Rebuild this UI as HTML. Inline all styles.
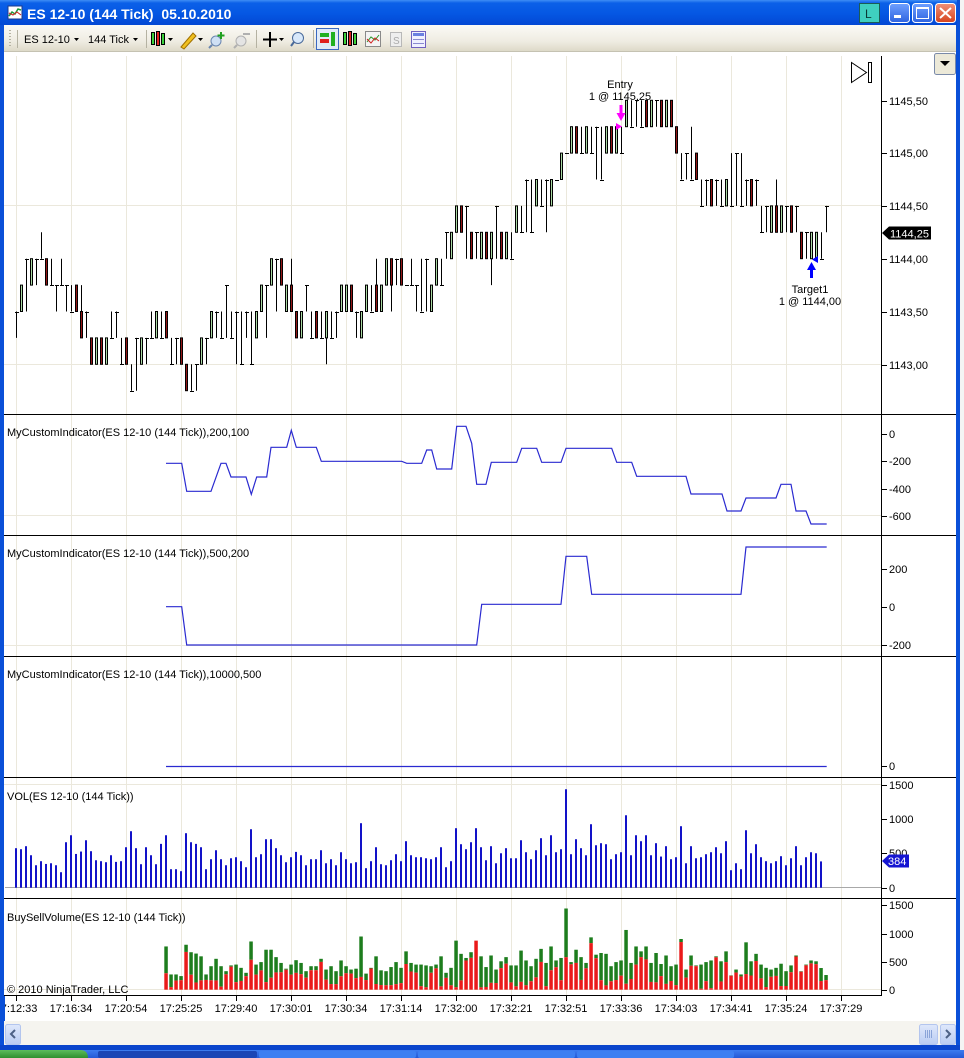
<!DOCTYPE html>
<html><head><meta charset="utf-8">
<style>
html,body{margin:0;padding:0;background:#fff;overflow:hidden;}
svg{display:block;}
text{font-family:"Liberation Sans",Arial,sans-serif;font-size:11px;fill:#000;}
</style></head><body>
<svg id="s" width="964" height="1058" viewBox="0 0 964 1058" xmlns="http://www.w3.org/2000/svg">
<defs>
 <linearGradient id="tb" x1="0" y1="0" x2="0" y2="1">
  <stop offset="0" stop-color="#3f8ef5"/>
  <stop offset="0.12" stop-color="#0b60e8"/>
  <stop offset="0.55" stop-color="#0557e3"/>
  <stop offset="1" stop-color="#0348d4"/>
 </linearGradient>
 <linearGradient id="tool" x1="0" y1="0" x2="0" y2="1">
  <stop offset="0" stop-color="#fbfaf6"/>
  <stop offset="0.6" stop-color="#efece2"/>
  <stop offset="1" stop-color="#dcd8c6"/>
 </linearGradient>
 <linearGradient id="btn" x1="0" y1="0" x2="0" y2="1">
  <stop offset="0" stop-color="#6fa0ff"/>
  <stop offset="1" stop-color="#2e63e0"/>
 </linearGradient>
 <linearGradient id="cls" x1="0" y1="0" x2="0" y2="1">
  <stop offset="0" stop-color="#f0917a"/>
  <stop offset="1" stop-color="#d6431c"/>
 </linearGradient>
 <linearGradient id="task" x1="0" y1="0" x2="0" y2="1">
  <stop offset="0" stop-color="#3c7cf0"/>
  <stop offset="1" stop-color="#2459d6"/>
 </linearGradient>
 <linearGradient id="start" x1="0" y1="0" x2="0" y2="1">
  <stop offset="0" stop-color="#5dbd5d"/>
  <stop offset="1" stop-color="#2f8f2f"/>
 </linearGradient>
 <linearGradient id="sb" x1="0" y1="0" x2="0" y2="1">
  <stop offset="0" stop-color="#dfe8fb"/>
  <stop offset="1" stop-color="#b9ccf3"/>
 </linearGradient>
</defs>

<rect x="0" y="0" width="964" height="1058" fill="#fff"/>

<!-- right strip (other window) -->
<rect x="960" y="0" width="4" height="1050" fill="#f4f4f4"/>

<!-- window frame -->
<rect x="0" y="0" width="960" height="1050" fill="#0a50d8"/>
<rect x="4" y="25" width="952" height="1020" fill="#fff"/>

<!-- title bar -->
<rect x="0" y="0" width="957" height="25" fill="url(#tb)"/>
<rect x="8" y="6" width="14" height="13" fill="#fff" stroke="#1a3a8a" stroke-width="1"/>
<polyline points="9,16 12,12 15,14 18,9 21,10" fill="none" stroke="#1a9a3a" stroke-width="1.5"/>
<polyline points="9,13 13,15 17,12 21,15" fill="none" stroke="#d02020" stroke-width="1"/>
<text x="27" y="19" style="font-size:14px;font-weight:bold;fill:#fff;white-space:pre">ES 12-10 (144 Tick)  05.10.2010</text>
<rect x="859.5" y="3.5" width="20" height="19" fill="#3fcfbf" stroke="#1a5c56"/>
<text x="865" y="18" style="font-size:12px;fill:#0a3a36">L</text>
<rect x="889.5" y="3.5" width="20" height="19" rx="3" fill="url(#btn)" stroke="#fff"/>
<rect x="894" y="15" width="7" height="3" fill="#fff"/>
<rect x="912.5" y="3.5" width="20" height="19" rx="3" fill="url(#btn)" stroke="#fff"/>
<rect x="916.5" y="7.5" width="12" height="11" fill="none" stroke="#fff" stroke-width="1"/>
<rect x="916" y="7" width="13" height="2" fill="#fff"/>
<rect x="935.5" y="3.5" width="20" height="19" rx="3" fill="url(#cls)" stroke="#fff"/>
<path d="M940,8 L951,18 M951,8 L940,18" stroke="#fff" stroke-width="2"/>

<!-- toolbar -->
<rect x="4" y="25" width="952" height="27" fill="url(#tool)"/>
<line x1="4" y1="51.5" x2="956" y2="51.5" stroke="#c5c2b2"/>
<path d="M10,30 v18" stroke="#b5b2a2" stroke-width="2" stroke-dasharray="1,2"/>
<line x1="17.5" y1="30" x2="17.5" y2="48" stroke="#b5b2a2"/>
<text x="24" y="43">ES 12-10</text>
<path d="M74,38 h5 l-2.5,3 z" fill="#000"/>
<text x="88" y="43">144 Tick</text>
<path d="M133,38 h5 l-2.5,3 z" fill="#000"/>
<line x1="146.5" y1="30" x2="146.5" y2="48" stroke="#b5b2a2"/>
<g stroke="#000" stroke-width="1">
 <rect x="151.5" y="32.5" width="3" height="12" fill="#3ad03a"/>
 <rect x="156.5" y="31.5" width="3" height="14" fill="#e02020"/>
 <rect x="161.5" y="33.5" width="3" height="11" fill="#3ad03a"/>
</g>
<path d="M168,38 h5 l-2.5,3 z" fill="#000"/>
<path d="M181,47 L193,33 L196,36 L184,49 Z" fill="#f0c020" stroke="#a07000"/>
<path d="M198,38 h5 l-2.5,3 z" fill="#000"/>
<circle cx="216" cy="41" r="5" fill="#cfe0f5" stroke="#6a86b0"/>
<line x1="212" y1="45" x2="209" y2="48" stroke="#6a86b0" stroke-width="2"/>
<path d="M221,32 v7 M217.5,35.5 h7" stroke="#20a020" stroke-width="2"/>
<circle cx="241" cy="41" r="5" fill="#e4e4e4" stroke="#b0b0b0"/>
<line x1="237" y1="45" x2="234" y2="48" stroke="#b0b0b0" stroke-width="2"/>
<line x1="243" y1="34" x2="250" y2="34" stroke="#b0b0b0" stroke-width="2"/>
<line x1="256.5" y1="30" x2="256.5" y2="48" stroke="#b5b2a2"/>
<path d="M263,39.5 h14 M270,32 v15" stroke="#000" stroke-width="2"/>
<path d="M279,38 h5 l-2.5,3 z" fill="#000"/>
<circle cx="298" cy="38" r="5.5" fill="#d8e8fa" stroke="#4a6a9a"/>
<line x1="294" y1="42" x2="291" y2="46" stroke="#4a6a9a" stroke-width="2"/>
<line x1="313.5" y1="30" x2="313.5" y2="48" stroke="#b5b2a2"/>
<rect x="316.5" y="28.5" width="22" height="21" fill="#e1ebf8" stroke="#3a68c0"/>
<rect x="320" y="33" width="9" height="4" fill="#20b020"/>
<rect x="320" y="39" width="9" height="4" fill="#e02020"/>
<rect x="331" y="32" width="4" height="14" fill="#20b020"/>
<g stroke="#000" stroke-width="1">
 <rect x="343.5" y="32.5" width="3" height="12" fill="#3ad03a"/>
 <rect x="348.5" y="31.5" width="3" height="14" fill="#e02020"/>
 <rect x="353.5" y="33.5" width="3" height="11" fill="#3ad03a"/>
</g>
<rect x="365.5" y="31.5" width="15" height="15" fill="#f4f4f4" stroke="#8a8a8a"/>
<polyline points="367,42 371,37 375,40 379,35" fill="none" stroke="#2a9a2a"/>
<polyline points="367,39 371,43 375,38 379,41" fill="none" stroke="#d02020"/>
<rect x="390.5" y="32.5" width="11" height="14" fill="#eee" stroke="#b8b8b8"/>
<text x="393" y="44" style="font-size:10px;fill:#aaa">S</text>
<rect x="411.5" y="31.5" width="14" height="16" fill="#f0f0ff" stroke="#7060c0"/>
<rect x="413" y="33" width="11" height="3" fill="#6a80e0"/>
<line x1="413" y1="39.5" x2="424" y2="39.5" stroke="#8a8ad0"/>
<line x1="413" y1="43.5" x2="424" y2="43.5" stroke="#8a8ad0"/>

<!-- chart area -->
<rect x="4" y="52" width="952" height="969" fill="#fff"/>
<g id="grid"></g>
<g id="plots"></g>

<!-- separators, axes -->
<g stroke="#000" stroke-width="1">
 <line x1="4" y1="414.5" x2="956" y2="414.5"/>
 <line x1="4" y1="535.5" x2="956" y2="535.5"/>
 <line x1="4" y1="656.5" x2="956" y2="656.5"/>
 <line x1="4" y1="777.5" x2="956" y2="777.5"/>
 <line x1="4" y1="898.5" x2="956" y2="898.5"/>
 <line x1="4" y1="995.5" x2="882" y2="995.5"/>
 <line x1="881.5" y1="56" x2="881.5" y2="996"/>
</g>
<g id="ticks" stroke="#000" stroke-width="1"></g>

<!-- price axis labels -->
<text x="889" y="105">1145,50</text>
<text x="889" y="157">1145,00</text>
<text x="889" y="210">1144,50</text>
<text x="889" y="263">1144,00</text>
<text x="889" y="316">1143,50</text>
<text x="889" y="369">1143,00</text>
<polygon points="882,233 889,226.5 931,226.5 931,239.5 889,239.5" fill="#000"/>
<text x="890" y="237.5" style="fill:#fff">1144,25</text>

<!-- panel 2 labels -->
<text x="889" y="438">0</text>
<text x="889" y="465">-200</text>
<text x="889" y="493">-400</text>
<text x="889" y="520">-600</text>
<!-- panel 3 labels -->
<text x="889" y="573">200</text>
<text x="889" y="611">0</text>
<text x="889" y="649">-200</text>
<!-- panel 4 -->
<text x="889" y="770">0</text>
<!-- VOL -->
<text x="889" y="789">1500</text>
<text x="889" y="823">1000</text>
<text x="889" y="857">500</text>
<text x="889" y="892">0</text>
<polygon points="882,861 889,854.5 909,854.5 909,867.5 889,867.5" fill="#1515d2"/>
<text x="888" y="865" style="fill:#fff">384</text>
<!-- BuySell -->
<text x="889" y="909">1500</text>
<text x="889" y="938">1000</text>
<text x="889" y="966">500</text>
<text x="889" y="994">0</text>

<!-- panel titles -->
<text x="7" y="436">MyCustomIndicator(ES 12-10 (144 Tick)),200,100</text>
<text x="7" y="557">MyCustomIndicator(ES 12-10 (144 Tick)),500,200</text>
<text x="7" y="678">MyCustomIndicator(ES 12-10 (144 Tick)),10000,500</text>
<text x="7" y="800">VOL(ES 12-10 (144 Tick))</text>
<text x="7" y="921">BuySellVolume(ES 12-10 (144 Tick))</text>
<text x="7" y="993">© 2010 NinjaTrader, LLC</text>

<!-- x axis labels -->
<g text-anchor="middle">
<text x="16" y="1012">17:12:33</text>
<text x="71" y="1012">17:16:34</text>
<text x="126" y="1012">17:20:54</text>
<text x="181" y="1012">17:25:25</text>
<text x="236" y="1012">17:29:40</text>
<text x="291" y="1012">17:30:01</text>
<text x="346" y="1012">17:30:34</text>
<text x="401" y="1012">17:31:14</text>
<text x="456" y="1012">17:32:00</text>
<text x="511" y="1012">17:32:21</text>
<text x="566" y="1012">17:32:51</text>
<text x="621" y="1012">17:33:36</text>
<text x="676" y="1012">17:34:03</text>
<text x="731" y="1012">17:34:41</text>
<text x="786" y="1012">17:35:24</text>
<text x="841" y="1012">17:37:29</text>
</g>
<rect x="0" y="996" width="5" height="25" fill="#0a50d8"/>

<!-- annotations -->
<text x="620" y="88" text-anchor="middle">Entry</text>
<text x="620" y="100" text-anchor="middle">1 @ 1145,25</text>
<path d="M619.5,105 h3 v8 h3 l-4.5,8 l-4.5,-8 h3 z" fill="#ff00ff"/>
<path d="M616,123 l6,3.5 l-6,3.5 z" fill="#ff00ff"/>
<path d="M810,278 h3 v-8 h3 l-4.5,-8 l-4.5,8 h3 z" fill="#0000ff"/>
<path d="M818,256 l-6,3.5 l6,3.5 z" fill="#0000ff"/>
<text x="810" y="293" text-anchor="middle">Target1</text>
<text x="810" y="305" text-anchor="middle">1 @ 1144,00</text>

<!-- go-to-end icon -->
<path d="M851.5,62.5 L866.5,72.5 L851.5,82.5 Z" fill="none" stroke="#000"/>
<rect x="868.5" y="62.5" width="3" height="20" fill="none" stroke="#000"/>
<!-- dropdown button -->
<rect x="934.5" y="53.5" width="21" height="21" rx="2" fill="#ece9d8" stroke="#7a8aa8"/>
<path d="M940,61 h10 l-5,5 z" fill="#000"/>

<!-- scrollbar -->
<rect x="4" y="1021" width="952" height="24" fill="#f5f4ef"/>
<rect x="5.5" y="1024.5" width="15" height="20" rx="2" fill="url(#sb)" stroke="#b3c5ee"/>
<path d="M15,1030 l-4,4 l4,4" fill="none" stroke="#4d6185" stroke-width="2"/>
<rect x="919.5" y="1024.5" width="18" height="20" rx="2" fill="url(#sb)" stroke="#b3c5ee"/>
<path d="M925.5,1030 v8 M927.5,1030 v8 M929.5,1030 v8 M931.5,1030 v8" stroke="#8aa4d8"/>
<rect x="940.5" y="1024.5" width="15" height="20" rx="2" fill="url(#sb)" stroke="#b3c5ee"/>
<path d="M946,1030 l4,4 l-4,4" fill="none" stroke="#4d6185" stroke-width="2"/>

<!-- bottom frame & taskbar -->
<rect x="0" y="1045" width="960" height="5" fill="#0a45cc"/>
<rect x="0" y="1050" width="964" height="8" fill="url(#task)"/>
<path d="M0,1050 h80 q8,0 8,8 h-88 z" fill="url(#start)"/>
<rect x="98" y="1051" width="159" height="7" rx="2" fill="#1b45b5"/>
<rect x="259" y="1051" width="157" height="7" rx="2" fill="#3d7ff2"/>
<rect x="418" y="1051" width="157" height="7" rx="2" fill="#3d7ff2"/>
<rect x="577" y="1051" width="157" height="7" rx="2" fill="#3d7ff2"/>
</svg>

<script>
(function(){
const NS='http://www.w3.org/2000/svg';
function el(tag,a,p){const e=document.createElementNS(NS,tag);for(const k in a)e.setAttribute(k,a[k]);p.appendChild(e);return e;}
const grid=document.getElementById('grid');
const plots=document.getElementById('plots');
const ticks=document.getElementById('ticks');
const GC='#ebe8dc';
// vertical gridlines + x ticks
for(let k=0;k<16;k++){
  const x=16.5+55*k;
  el('line',{x1:x,x2:x,y1:56,y2:995,stroke:GC},grid);
  el('line',{x1:x,x2:x,y1:995,y2:1001},ticks);
}
// horizontal gridlines
[205.5,364.5,515.5,645.5,784.5,989.5].forEach(y=>el('line',{x1:4,x2:881,y1:y,y2:y,stroke:GC},grid));
// axis ticks
[101,153,206,259,312,365,433.7,461,489,516,569,606.7,645,766,785,819,853,887.7,905,934,961.7,989.7].forEach(y=>{
  const yy=Math.round(y)+0.5; el('line',{x1:881,x2:887,y1:yy,y2:yy},ticks);
});
// VOL baseline
el('line',{x1:5,x2:881,y1:887.5,y2:887.5,stroke:'#a8a8a8'},grid);

// price bars
const B=[
['l',1,2],['g',2],['l',2,4],['g',3],['l',3,4],['l',4,5],['r',3],['l',3,4],['l',2,3],['l',3,4],
['l',2,3],['l',2,3],['r',2],['r',1,1,3],['l',1,2],['r',0],['g',0],['r',0],['g',0],['l',1,2],
['l',1,2],['l',0,1],['r',0],['l',-1,0],['l',-1,1],['g',0],['l',0,1],['l',1,2],['g',1],['l',1,2],
['r',1],['l',0,1],['l',0,1],['r',0],['r',-1],['l',-1,0],['l',-1,0],['g',0],['l',0,1],['g',1],
['l',1,2],['l',1,2],['l',1,3],['l',1,2],['l',0,2],['l',0,2],['l',1,2],['l',0,2],['g',1],['g',2],
['l',1,3],['g',3],['l',2,4],['r',3],['g',2],['r',2,2,4],['r',1],['g',1],['l',2,3],['l',1,2],
['r',1],['l',1,2],['g',1,0,2],['l',1,2],['l',1,2],['g',2],['g',2],['r',2],['l',1,2],['g',1],
['g',2],['l',2,3],['r',2,2,4],['g',2],['g',3],['r',3,2,4],['l',3,4],['r',3],['d',3],['l',3,4],
['l',2,3],['l',2,4],['l',2,4],['g',2],['g',3],['l',3,4],['l',4,5],['g',4],['g',5],['r',5],
['l',4,6],['r',4],['l',4,5],['g',4],['r',4],['g',4,3,5],['l',4,6],['r',4],['g',4],['l',4,5],
['g',5],['l',5,6],['l',5,7],['l',5,7],['g',6],['l',6,7],['l',5,7],['g',6],['d',7],['g',7],
['d',8],['g',8],['r',8],['l',8,9],['g',8],['l',8,9],['l',7,9],['l',7,9],['g',8],['r',8],
['g',8],['l',8,9],['g',9],['l',9,10],['l',9,10],['l',9,10],['r',9],['g',9],['l',9,10],['r',9],
['g',9],['r',9],['r',8],['l',7,8],['l',7,8],['l',7,9],['r',7],['l',6,7],['l',6,7],['r',6],
['l',6,7],['l',6,7],['g',6],['l',6,8],['l',6,8],['l',6,8],['l',6,7],['r',6],['l',6,7],['l',5,6],
['l',5,6],['g',5],['r',5,5,7],['g',5],['l',5,6],['r',5],['l',5,6],['r',4],['l',4,5],['g',4],
['g',4],['l',4,5],['l',5,6]
];
const Y=L=>364.3-26.4*L;
B.forEach((b,i)=>{
  const x=16+5*i, cx=x+0.5, t=b[0];
  if(t==='g'||t==='r'){
    const lo=b[1], wl=(b[2]!==undefined)?b[2]:lo, wh=(b[3]!==undefined)?b[3]:lo+1;
    if(wl<lo||wh>lo+1) el('line',{x1:cx,x2:cx,y1:Y(wh),y2:Y(wl),stroke:'#000'},plots);
    el('rect',{x:x-0.5,y:Y(lo+1),width:2,height:26.4,fill:t==='g'?'#a9d8a2':'#931515',stroke:'#000','stroke-width':1},plots);
  } else if(t==='l'){
    el('line',{x1:cx,x2:cx,y1:Y(b[2]),y2:Y(b[1]),stroke:'#000'},plots);
    const ty=Math.round(Y(i%2?b[1]:b[2]))+0.5;
    el('line',{x1:x-1,x2:x+3,y1:ty,y2:ty,stroke:'#000'},plots);
  } else {
    const ty=Math.round(Y(b[1]))+0.5;
    el('line',{x1:x-1,x2:x+3,y1:ty,y2:ty,stroke:'#000'},plots);
  }
});

// indicator lines
const LC='#2a2ad0';
function pl(pts){el('polyline',{points:pts.map(p=>p.join(',')).join(' '),fill:'none',stroke:LC,'stroke-width':1.2},plots);}
pl([[166,463.3],[181.7,463.3],[186.7,491.3],[211,491.3],[221,463.3],[226,463.3],[231,477],[246,477],[251.3,494.3],[256.7,477],[266.7,477],[271,447.3],[286.7,447.3],[291.3,430.3],[296.3,447.3],[316.3,447.3],[321.3,461.3],[401.7,461.3],[406.7,463.3],[421.7,463.3],[426.7,450],[431.7,450],[436.7,469],[451.7,469],[456.7,426.3],[466,426.3],[471.7,443.3],[476.7,484.3],[486,484.3],[491.3,462.3],[516.7,462.3],[521.7,448.3],[536.7,448.3],[541.7,462.3],[561,462.3],[566,448.3],[611.7,448.3],[616.7,462.3],[631.7,462.3],[636.7,476.3],[686,476.3],[691,494],[722,494],[727,511],[741,511],[746,498],[776,498],[781,484.3],[791,484.3],[796,511],[806,511],[811,524],[826.7,524]]);
pl([[166,606.7],[181.7,606.7],[186.7,645],[476.7,645],[481.7,604.3],[561,604.3],[566,556.3],[586.7,556.3],[591.7,594.3],[741,594.3],[746,547],[826.7,547]]);
pl([[166,766.5],[826.7,766.5]]);

// volume
const V=[577,562,606,474,328,387,347,357,328,226,
664,766,493,528,693,533,401,387,372,474,
377,387,591,825,577,343,591,474,343,640,
766,270,270,241,796,664,640,591,270,416,
547,416,328,430,445,387,299,854,445,489,
708,708,577,474,372,445,523,474,328,416,
416,547,357,416,328,518,416,357,372,942,
285,387,591,343,328,401,489,387,679,474,
445,445,430,416,445,591,299,387,869,635,
562,664,869,591,401,606,357,503,577,430,
430,693,518,416,547,723,474,766,518,562,
1438,489,708,577,474,927,620,650,635,416,
489,518,1058,474,766,679,766,474,650,455,
606,416,445,898,357,606,430,445,489,518,
591,503,679,255,357,270,839,503,635,445,
387,357,387,460,328,430,606,328,445,518,
503,384];
const VS=102.7/1500, V0=887.7;
V.forEach((v,k)=>{const h=v*VS; el('rect',{x:15+5*k,y:V0-h,width:2,height:h,fill:'#1212c8'},plots);});

// buy/sell
const F=[.38,.17,.6,.7,.84,.4,.2,.28,.64,.4,
.3,.13,.83,.95,.3,.4,.8,.62,.6,.7,
.19,.3,.53,.65,.95,.6,.57,.58,.65,.83,
.83,.9,.5,
.24,.3,.46,.7,.8,.55,.24,
.6,.97,.17,.24,.24,.2,.2,.3,.67,.68,
.68,.14,.1,.72,.85,.1,.7,.2,.05,.26,
.92,.85,1,.07,.12,.2,.33,.76,.8,.3,
.14,.2,.15,.36,.4,.68,.13,.45,.77,.3,
.4,.92,.67,.3,.8,.89,.9,.26,.12,.36,
.35,.48,.1,.4,.58,.85,.7,
.29,.2,.53,.17,.37,.18,.94,.6,.7,.97,
.04,.31,.05,.97,.29,.72,.97,.85,.87,.33,
.5,.8,.45,.12,.64,.63,.14,.2,.72,.97,
.97,.97,.9,.9,.4,.65];
const BS=84.7/1500, B0=989.7;
const V2=V.concat([260]);
for(let k=30;k<=162;k++){
  const tot=V2[k]*BS, red=tot*F[k-30], x=14.3+5*k;
  el('rect',{x:x,y:B0-tot,width:3.5,height:tot-red,fill:'#1d7d1d'},plots);
  el('rect',{x:x,y:B0-red,width:3.5,height:red,fill:'#ea1a1a'},plots);
}
})();
</script>
</body></html>
